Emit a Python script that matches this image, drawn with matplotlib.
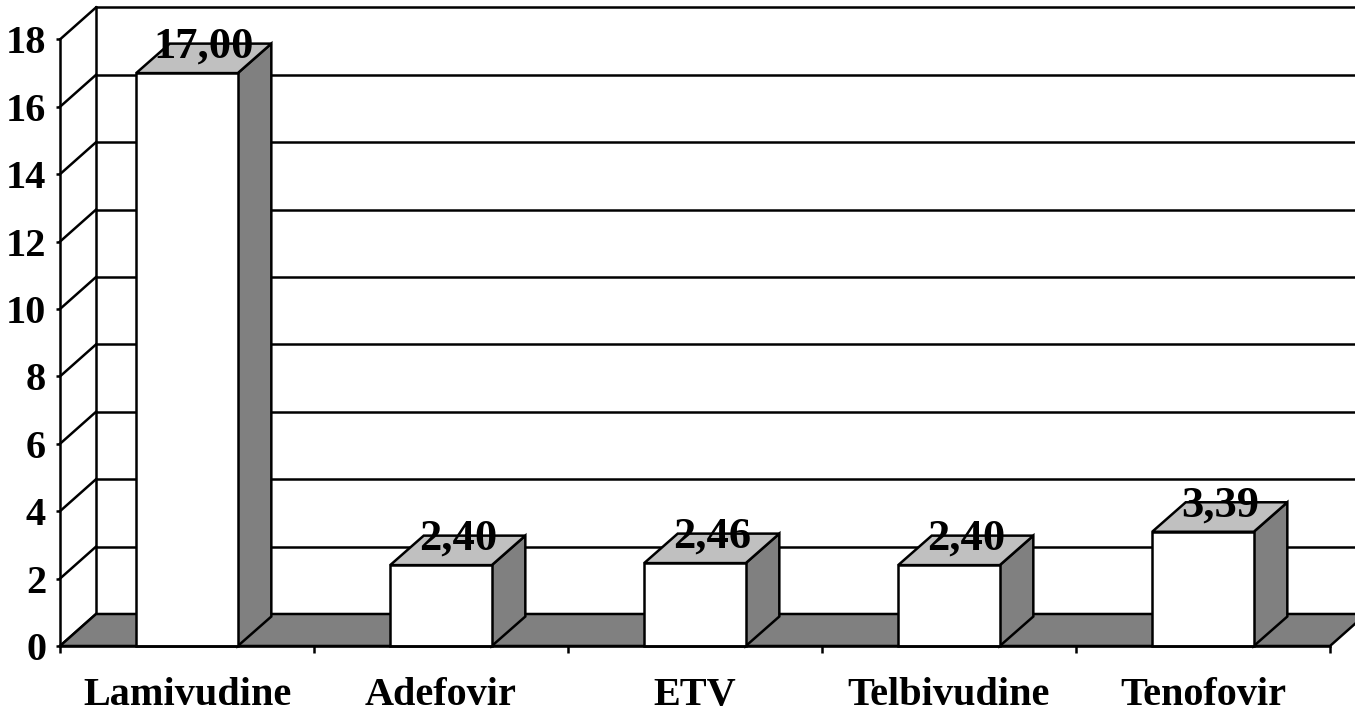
import numpy as np
import matplotlib.pyplot as plt
from matplotlib.patches import Polygon

# Data
drugs = ['Lamivudine', 'Adefovir', 'ETV', 'Telbivudine', 'Tenofovir']
values = [17.00, 2.40, 2.46, 2.40, 3.39]
labels = ['17,00', '2,40', '2,46', '2,40', '3,39']
yticks = list(range(0, 19, 2))

# 3D look (in data units)
wall_dx, wall_dy = 0.142, 0.95   # depth of the floor / back wall
bar_dx, bar_dy = 0.132, 0.875    # depth of each column
bar_w = 0.4
ymax = 18

plt.rcParams['font.family'] = ['Liberation Serif', 'DejaVu Serif']
plt.rcParams['font.weight'] = 'bold'

fig = plt.figure(figsize=(13.55, 7.17), dpi=100)
ax = fig.add_axes([0, 0, 1, 1])
ax.set_xlim(-0.5 - 60 / 254, 4.5 + 25 / 254)
ax.set_ylim(-71 / 33.7, 646 / 33.7)

n = len(drugs)
x0, x1 = -0.5, n - 0.5
lw = 1.8

# back wall gridlines + side wall diagonals
for v in yticks:
    ax.plot([x0 + wall_dx, x1 + wall_dx], [v + wall_dy, v + wall_dy],
            color='black', lw=lw, zorder=1)
    ax.plot([x0, x0 + wall_dx], [v, v + wall_dy], color='black', lw=lw, zorder=1)
# back vertical edges
ax.plot([x0 + wall_dx, x0 + wall_dx], [wall_dy, ymax + wall_dy],
        color='black', lw=lw, zorder=1)
ax.plot([x1 + wall_dx, x1 + wall_dx], [wall_dy, ymax + wall_dy],
        color='black', lw=lw, zorder=1)

# floor
floor = Polygon([(x0, 0), (x1, 0), (x1 + wall_dx, wall_dy), (x0 + wall_dx, wall_dy)],
                closed=True, facecolor='#808080', edgecolor='black', lw=lw, zorder=2)
ax.add_patch(floor)

# columns
for i, (v, lab) in enumerate(zip(values, labels)):
    l, r = i - bar_w / 2, i + bar_w / 2
    side = Polygon([(r, 0), (r + bar_dx, bar_dy), (r + bar_dx, v + bar_dy), (r, v)],
                   closed=True, facecolor='#808080', edgecolor='black', lw=lw,
                   joinstyle='miter', zorder=3)
    top = Polygon([(l, v), (r, v), (r + bar_dx, v + bar_dy), (l + bar_dx, v + bar_dy)],
                  closed=True, facecolor='#c0c0c0', edgecolor='black', lw=lw,
                  joinstyle='miter', zorder=3)
    front = Polygon([(l, 0), (r, 0), (r, v), (l, v)],
                    closed=True, facecolor='white', edgecolor='black', lw=lw,
                    joinstyle='miter', zorder=4)
    for p in (side, top, front):
        ax.add_patch(p)
    ax.text(i + bar_dx / 2, v + 0.45, lab, ha='center', va='baseline',
            fontsize=32, fontweight='bold', zorder=5)

# axes
for s in ('top', 'right'):
    ax.spines[s].set_visible(False)
ax.spines['left'].set_position(('data', x0))
ax.spines['left'].set_bounds(0, ymax)
ax.spines['bottom'].set_position(('data', 0))
ax.spines['bottom'].set_bounds(x0, x1)
for s in ('left', 'bottom'):
    ax.spines[s].set_linewidth(lw)
    ax.spines[s].set_zorder(6)

ax.set_yticks(yticks)
ax.set_yticklabels([str(t) for t in yticks], fontsize=29, fontweight='bold')
ax.set_xticks(range(n))
ax.set_xticklabels(drugs, fontsize=29, fontweight='bold')
ax.set_xticks(np.arange(n + 1) - 0.5, minor=True)
ax.tick_params(axis='y', length=3, width=lw, pad=7, direction='out')
ax.tick_params(axis='x', which='major', length=0, pad=22)
ax.tick_params(axis='x', which='minor', length=5, width=lw, direction='out')

fig.savefig('out.png', dpi=100)
